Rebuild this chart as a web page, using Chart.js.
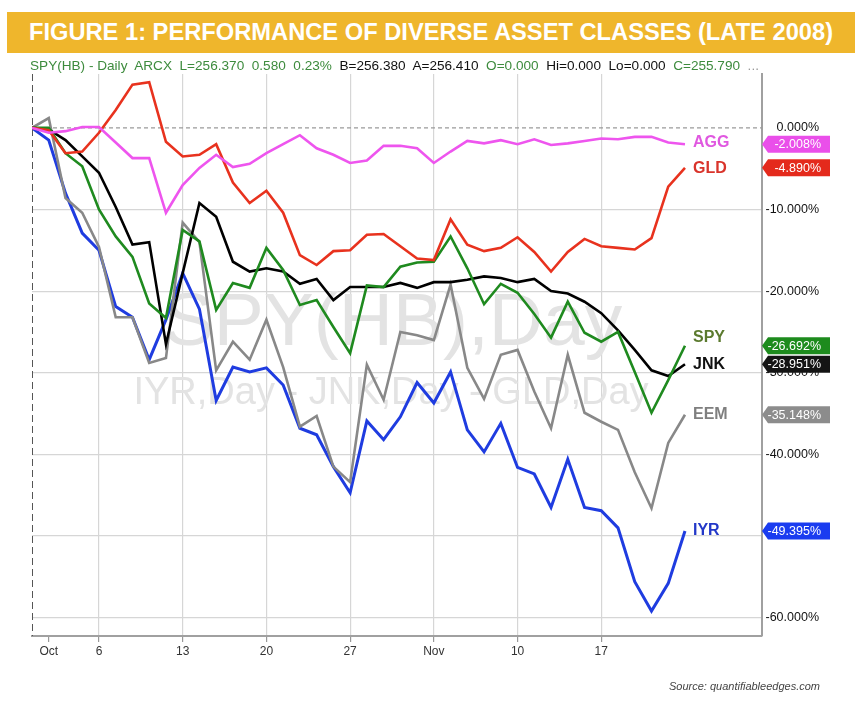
<!DOCTYPE html>
<html>
<head>
<meta charset="utf-8">
<script src="https://cdn.jsdelivr.net/npm/chart.js@4.4.1/dist/chart.umd.min.js"></script>
<style>
  body { margin: 0; background: #fff; font-family: "Liberation Sans", Arial, sans-serif; }
  #wrap { position: relative; width: 862px; height: 707px; overflow: hidden; }
  #chart { position: absolute; left: 0; top: 0; }
  .banner {
    position: absolute; left: 7px; top: 12px; width: 848px; height: 41px;
    background: #efb62c; color: #fff; font-weight: bold; font-size: 23.7px;
    line-height: 41px; text-align: center; white-space: nowrap;
  }
  .sub {
    position: absolute; left: 30px; top: 58px; font-size: 13.6px; line-height: 16px;
    white-space: pre; color: #111;
  }
  .sub .g { color: #3d8b3d; }
  .sub .d { color: #999; }
  .source {
    position: absolute; right: 42px; top: 680px; font-family: "Liberation Sans Narrow", "Liberation Sans", sans-serif;
    font-style: italic; font-size: 11px; color: #444;
  }
</style>
</head>
<body>
<div id="wrap">
  <canvas id="chart" width="862" height="707"></canvas>
  <div class="banner">FIGURE 1: PERFORMANCE OF DIVERSE ASSET CLASSES (LATE 2008)</div>
  <div class="sub"><span class="g">SPY(HB) - Daily  ARCX  L=256.370  0.580  0.23%</span>  B=256.380  A=256.410  <span class="g">O=0.000</span>  Hi=0.000  Lo=0.000  <span class="g">C=255.790</span>  <span class="d">...</span></div>
  <div class="source">Source: quantifiableedges.com</div>
</div>
<script>
// trading days, Sep 30 2008 = base
const days = ['Sep 30', 'Oct 1', 'Oct 2', 'Oct 3', 'Oct 6', 'Oct 7', 'Oct 8', 'Oct 9', 'Oct 10',
  'Oct 13', 'Oct 14', 'Oct 15', 'Oct 16', 'Oct 17', 'Oct 20', 'Oct 21', 'Oct 22', 'Oct 23', 'Oct 24',
  'Oct 27', 'Oct 28', 'Oct 29', 'Oct 30', 'Oct 31', 'Nov 3', 'Nov 4', 'Nov 5', 'Nov 6', 'Nov 7',
  'Nov 10', 'Nov 11', 'Nov 12', 'Nov 13', 'Nov 14', 'Nov 17', 'Nov 18', 'Nov 19', 'Nov 20', 'Nov 21', 'Nov 24'];

// % change since Sep 30
const aggData = [0, -0.6, -0.4, 0.1, 0.1, -1.8, -3.7, -3.7, -10.4, -7.0,
  -4.9, -3.3, -4.8, -4.4, -3.1, -2.0, -0.9, -2.5, -3.3, -4.3,
  -4.0, -2.2, -2.2, -2.5, -4.3, -2.9, -1.6, -1.9, -1.5, -2.0,
  -1.4, -2.1, -1.9, -1.6, -1.3, -1.4, -1.1, -1.1, -1.8, -2.008];
const gldData = [0, -0.3, -3.1, -2.9, -0.6, 2.2, 5.3, 5.6, -1.7, -3.5,
  -3.3, -2.0, -6.7, -9.2, -7.7, -10.4, -15.6, -16.8, -15.1, -15.0,
  -13.1, -13.0, -14.5, -16.0, -16.2, -11.2, -14.3, -15.1, -14.7, -13.4,
  -15.2, -17.6, -15.2, -13.6, -14.5, -14.7, -14.9, -13.5, -7.2, -4.89];
const spyData = [0, 0, -3.1, -4.7, -10.0, -13.3, -15.8, -21.5, -23.3, -12.5,
  -13.9, -22.3, -19.0, -19.6, -14.7, -17.4, -21.7, -21.1, -24.4, -27.6,
  -19.3, -19.5, -17.0, -16.5, -16.4, -13.3, -17.2, -21.6, -19.1, -20.2,
  -22.8, -25.7, -21.3, -25.1, -26.2, -25.0, -29.9, -34.9, -30.9, -26.692];
const jnkData = [0, -0.2, -1.5, -3.5, -5.5, -9.7, -14.3, -14.0, -26.5, -17.8,
  -9.2, -10.9, -16.4, -17.6, -17.2, -17.6, -19.1, -18.5, -21.1, -19.5,
  -19.5, -19.5, -19.0, -19.6, -18.9, -18.9, -18.6, -18.2, -18.4, -18.9,
  -18.5, -20.0, -20.3, -21.3, -22.7, -24.8, -27.2, -29.7, -30.4, -28.951];
const eemData = [0, 1.2, -8.6, -10.4, -14.6, -23.2, -23.2, -28.8, -28.2, -11.6,
  -14.0, -29.7, -26.2, -28.4, -23.5, -29.3, -36.6, -35.3, -41.5, -43.4,
  -29.0, -33.3, -25.0, -25.4, -26.0, -19.2, -29.4, -33.2, -27.8, -27.2,
  -32.3, -36.8, -27.8, -34.9, -36.0, -37.0, -42.2, -46.6, -38.6, -35.148];
const iyrData = [0, -1.5, -8.0, -12.9, -15.0, -21.9, -23.2, -28.4, -23.5, -17.8,
  -22.2, -33.4, -29.3, -29.9, -29.4, -31.5, -36.8, -37.6, -41.5, -44.7,
  -35.9, -38.2, -35.4, -31.2, -33.7, -29.9, -37.0, -39.7, -36.2, -41.6,
  -42.4, -46.5, -40.6, -46.5, -46.9, -49.0, -55.6, -59.2, -55.8, -49.395];

const xTickIdx = [1, 4, 9, 14, 19, 24, 29, 34];
const xTickLabels = ['Oct', '6', '13', '20', '27', 'Nov', '10', '17'];
const yTicks = [0, -10, -20, -30, -40, -50, -60];

const series = [
  { name: 'AGG', data: aggData, line: '#ee55ee', text: '#e058e0', tag: '#ea4fea', dy: -2 },
  { name: 'GLD', data: gldData, line: '#e8321e', text: '#d9342b', tag: '#e42a1c', dy: 1 },
  { name: 'SPY', data: spyData, line: '#1f8a1f', text: '#5b7a2e', tag: '#1d8b1d', dy: -8 },
  { name: 'JNK', data: jnkData, line: '#000000', text: '#111111', tag: '#141414', dy: 0 },
  { name: 'EEM', data: eemData, line: '#888888', text: '#7f7f7f', tag: '#8c8c8c', dy: 0 },
  { name: 'IYR', data: iyrData, line: '#1f3ce0', text: '#2338c8', tag: '#1a3cf0', dy: 0 },
];

const backdrop = {
  id: 'backdrop',
  beforeDatasetsDraw(chart) {
    const { ctx, chartArea: a, scales } = chart;
    const cx = (a.left + a.right) / 2;
    ctx.save();
    ctx.fillStyle = '#e3e3e3';
    ctx.textAlign = 'center';
    ctx.textBaseline = 'alphabetic';
    ctx.font = '75px "Liberation Sans", Arial, sans-serif';
    ctx.fillText('SPY(HB),Day', cx - 4, 345);
    ctx.font = '38px "Liberation Sans", Arial, sans-serif';
    ctx.fillText('IYR,Day - JNK,Day - GLD,Day', cx - 6, 404);
    // zero line
    const y0 = scales.y.getPixelForValue(0);
    ctx.strokeStyle = '#9a9a9a';
    ctx.lineWidth = 1.3;
    ctx.setLineDash([4, 3]);
    ctx.beginPath();
    ctx.moveTo(a.left, y0);
    ctx.lineTo(a.right, y0);
    ctx.stroke();
    // left edge
    ctx.strokeStyle = '#555';
    ctx.lineWidth = 1;
    ctx.setLineDash([7, 4]);
    ctx.beginPath();
    ctx.moveTo(a.left + 0.5, a.top);
    ctx.lineTo(a.left + 0.5, a.bottom);
    ctx.stroke();
    ctx.restore();
  },
  afterDraw(chart) {
    const { ctx, chartArea: a, scales } = chart;
    ctx.save();
    series.forEach((s) => {
      const last = s.data.length - 1;
      const px = scales.x.getPixelForValue(last);
      const py = scales.y.getPixelForValue(s.data[last]);
      ctx.font = 'bold 16px "Liberation Sans", Arial, sans-serif';
      ctx.fillStyle = s.text;
      ctx.textAlign = 'left';
      ctx.textBaseline = 'middle';
      ctx.fillText(s.name, px + 8, py + s.dy);
      // value tag on the axis
      const l = a.right, r = 830, h = 8.5;
      ctx.fillStyle = s.tag;
      ctx.beginPath();
      ctx.moveTo(l, py);
      ctx.lineTo(l + 6, py - h);
      ctx.lineTo(r, py - h);
      ctx.lineTo(r, py + h);
      ctx.lineTo(l + 6, py + h);
      ctx.closePath();
      ctx.fill();
      ctx.fillStyle = '#fff';
      ctx.font = '12.5px "Liberation Sans", Arial, sans-serif';
      ctx.textAlign = 'right';
      ctx.fillText(s.data[last].toFixed(3) + '%', 821, py + 0.5);
    });
    ctx.restore();
  },
};

Chart.defaults.font.family = '"Liberation Sans", Arial, sans-serif';

new Chart(document.getElementById('chart'), {
  type: 'line',
  data: {
    datasets: series.map((s) => ({
      label: s.name,
      data: s.data.map((v, i) => ({ x: i, y: v })),
      borderColor: s.line,
      borderWidth: s.name === 'IYR' ? 3 : 2.6,
      pointRadius: 0,
      tension: 0,
      fill: false,
    })),
  },
  options: {
    responsive: false,
    animation: false,
    layout: { padding: { top: 74, left: 32, right: 43, bottom: 0 } },
    plugins: { legend: { display: false }, tooltip: { enabled: false } },
    scales: {
      x: {
        type: 'linear',
        min: 0,
        max: 43.6,
        afterBuildTicks: (s) => { s.ticks = xTickIdx.map((v) => ({ value: v })); },
        afterFit: (s) => { s.height = 71; },
        ticks: {
          autoSkip: false,
          maxRotation: 0,
          color: '#333',
          font: { size: 12 },
          padding: 2,
          callback: (v) => xTickLabels[xTickIdx.indexOf(v)],
        },
        grid: {
          color: (c) => (c.tick && c.tick.value === 1 ? 'rgba(0,0,0,0)' : '#d6d6d6'),
          lineWidth: 1.2,
          tickColor: '#999',
          tickLength: 6,
        },
        border: { color: '#a0a0a0', width: 2 },
      },
      y: {
        position: 'right',
        min: -62.25,
        max: 6.6,
        afterBuildTicks: (s) => { s.ticks = yTicks.map((v) => ({ value: v })); },
        afterFit: (s) => { s.width = 57; },
        ticks: {
          color: '#111',
          font: { size: 12.5 },
          padding: 4,
          crossAlign: 'far',
          callback: (v) => v.toFixed(3) + '%',
        },
        grid: {
          color: (c) => (c.tick && c.tick.value === 0 ? 'rgba(0,0,0,0)' : '#d6d6d6'),
          lineWidth: 1.2,
          drawTicks: false,
        },
        border: { color: '#a0a0a0', width: 2 },
      },
    },
  },
  plugins: [backdrop],
});
</script>
</body>
</html>
